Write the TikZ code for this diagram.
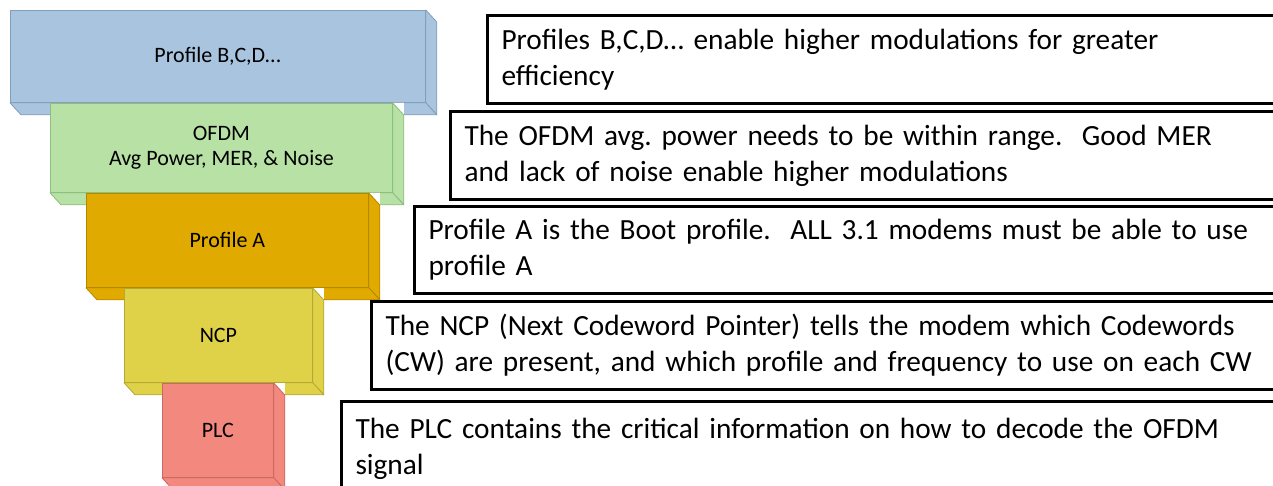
\documentclass[tikz,border=0pt]{standalone}
\usepackage{fontspec}
\setmainfont{Carlito}
\frenchspacing
\definecolor{cblue}{RGB}{169,196,222}
\definecolor{cblueE}{RGB}{130,158,190}
\definecolor{cgreen}{RGB}{183,225,165}
\definecolor{cgreenE}{RGB}{140,190,125}
\definecolor{corange}{RGB}{225,170,0}
\definecolor{corangeE}{RGB}{180,135,0}
\definecolor{cyellow}{RGB}{224,210,72}
\definecolor{cyellowE}{RGB}{180,168,50}
\definecolor{cred}{RGB}{242,136,126}
\definecolor{credE}{RGB}{200,105,98}
\tikzset{
  blk/.style={draw=#1E, fill=#1, line width=0.8pt, inner sep=0pt, anchor=north west,
    align=center, font=\fontsize{22}{25}\selectfont},
  face/.style={draw=#1E, fill=#1, line width=0.8pt, line join=round},
  desc/.style={draw=black, line width=3pt, fill=white, inner xsep=14pt, inner ysep=0pt,
    anchor=north west, align=left, font=\fontsize{29.3}{36}\selectfont},
}
\newcommand{\sidefaces}[2]{%
  \fill[white] (#1.north east) -- ++(11,0) -- ++(0,12) -- cycle;
  \draw[face=#2] (#1.north east) -- ++(11,12) -- ([shift={(11,12)}]#1.south east) -- (#1.south east) -- cycle;
  \draw[face=#2] (#1.south west) -- ++(11,12) -- ([shift={(11,12)}]#1.south east) -- (#1.south east) -- cycle;
}
\begin{document}
\begin{tikzpicture}[x=1pt,y=-1pt]
\useasboundingbox (0,0) rectangle (1273,486);
\clip (0,0) rectangle (1273,486);
% blocks
\node[blk=cblue, minimum width=415pt, minimum height=92pt] (b1) at (10,10) {Profile B,C,D...};
\sidefaces{b1}{cblue}
\node[blk=cgreen, minimum width=342pt, minimum height=89pt] (b2) at (50,103) {OFDM\\Avg Power, MER, \& Noise};
\sidefaces{b2}{cgreen}
\node[blk=corange, minimum width=282pt, minimum height=94pt] (b3) at (86,193) {Profile A};
\sidefaces{b3}{corange}
\node[blk=cyellow, minimum width=188pt, minimum height=94pt] (b4) at (124,288) {NCP};
\sidefaces{b4}{cyellow}
\node[blk=cred, minimum width=111pt, minimum height=94pt] (b5) at (162,383) {PLC};
\sidefaces{b5}{cred}
% description boxes
\node[desc, text width=776pt, minimum height=88pt] (d1) at (486,14)
  {Profiles B,C,D… enable higher modulations for greater\\efficiency};
\node[desc, text width=813pt, minimum height=88pt] (d2) at (449,110)
  {The OFDM avg. power needs to be within range.\ \ Good MER\\and lack of noise enable higher modulations};
\node[desc, text width=849pt, minimum height=87pt] (d3) at (413,205)
  {Profile A is the Boot profile.\ \ ALL 3.1 modems must be able to use\\profile A};
\node[desc, text width=892pt, minimum height=88pt] (d4) at (370,300)
  {The NCP (Next Codeword Pointer) tells the modem which Codewords\\(CW) are present, and which profile and frequency to use on each CW};
\node[desc, text width=922pt, minimum height=94pt] (d5) at (340,400)
  {The PLC contains the critical information on how to decode the OFDM\\signal};
\end{tikzpicture}
\end{document}
